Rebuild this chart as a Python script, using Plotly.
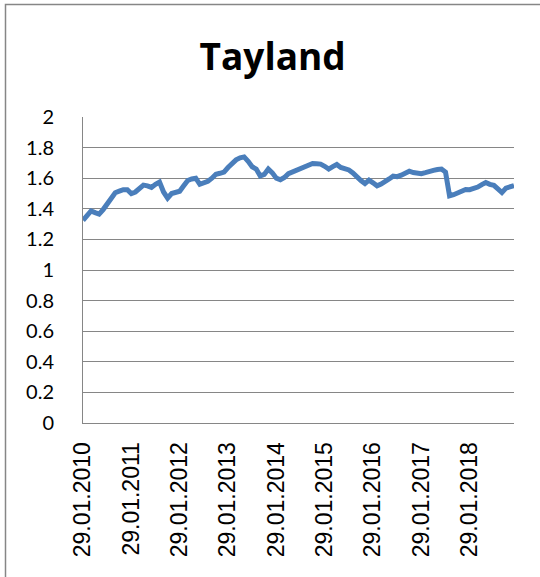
import plotly.graph_objects as go

# Monthly observations, Jan 2010 - Dec 2018
years = list(range(2010, 2019))
months = list(range(1, 13))
dates = ["29.%02d.%d" % (m, y) for y in years for m in months]
values = [
    1.325, 1.355, 1.386, 1.375, 1.365, 1.395, 1.43, 1.47, 1.505, 1.515, 1.525, 1.525,
    1.50, 1.51, 1.53, 1.555, 1.55, 1.54, 1.56, 1.575, 1.51, 1.47, 1.50, 1.507,
    1.515, 1.55, 1.585, 1.595, 1.60, 1.56, 1.57, 1.58, 1.60, 1.626, 1.632, 1.64,
    1.67, 1.70, 1.72, 1.733, 1.739, 1.71, 1.675, 1.66, 1.615, 1.625, 1.66, 1.635,
    1.60, 1.59, 1.605, 1.63, 1.64, 1.65, 1.66, 1.673, 1.686, 1.696, 1.694, 1.692,
    1.678, 1.66, 1.676, 1.69, 1.67, 1.66, 1.654, 1.635, 1.605, 1.585, 1.565, 1.587,
    1.57, 1.55, 1.562, 1.575, 1.595, 1.613, 1.61, 1.62, 1.637, 1.646, 1.637, 1.634,
    1.63, 1.636, 1.647, 1.651, 1.657, 1.66, 1.64, 1.485, 1.492, 1.503, 1.515, 1.526,
    1.525, 1.53, 1.542, 1.558, 1.572, 1.56, 1.553, 1.53, 1.506, 1.535, 1.545, 1.552,
]
tick_idx = list(range(0, len(dates), 12))
tick_labels = [dates[i] for i in tick_idx]
y_ticks = [0, 0.2, 0.4, 0.6, 0.8, 1, 1.2, 1.4, 1.6, 1.8, 2]
y_tick_text = ["0", "0.2", "0.4", "0.6", "0.8", "1", "1.2", "1.4", "1.6", "1.8", "2"]

W, H = 540, 577
L, R, T, B = 83, 26, 117, 154
pw, ph = W - L - R, H - T - B

fig = go.Figure(go.Scatter(
    x=list(range(len(values))), y=values, mode="lines",
    line=dict(color="#4A7EBB", width=5, shape="linear"),
    hoverinfo="skip",
))

def px_to_paper_x(px):
    return (px - L) / pw

def px_to_paper_y(py):
    return (H - B - py) / ph

fig.update_layout(
    width=W, height=H,
    margin=dict(l=L, r=R, t=T, b=B),
    paper_bgcolor="white", plot_bgcolor="white",
    showlegend=False,
    title=dict(text="<b>Tayland</b>", x=0.505, xanchor="center", xref="container",
               y=1 - 57 / H, yanchor="middle", yref="container",
               font=dict(family="Open Sans", size=37, color="black")),
    xaxis=dict(
        range=[0, len(values) - 1],
        tickmode="array", tickvals=tick_idx, ticktext=tick_labels,
        tickangle=-90, tickfont=dict(family="Liberation Sans", size=23, color="black"),
        showgrid=False, zeroline=False, showline=True, linecolor="#868686", linewidth=1,
        ticks="", ticklabelstandoff=9,
    ),
    yaxis=dict(
        range=[0, 2], tickmode="array", tickvals=y_ticks, ticktext=y_tick_text,
        tickfont=dict(family="Lato", size=20, color="black"),
        showgrid=True, gridcolor="#868686", gridwidth=1, zeroline=False,
        showline=True, linecolor="#868686", linewidth=1,
        ticks="", ticklabelstandoff=24,
    ),
    shapes=[dict(type="rect", xref="paper", yref="paper",
                 x0=px_to_paper_x(5.5), x1=px_to_paper_x(W + 5),
                 y0=px_to_paper_y(H + 5), y1=px_to_paper_y(4.5),
                 line=dict(color="#868686", width=1.5), fillcolor="rgba(0,0,0,0)", layer="below")],
)

fig.write_html("out.html")
